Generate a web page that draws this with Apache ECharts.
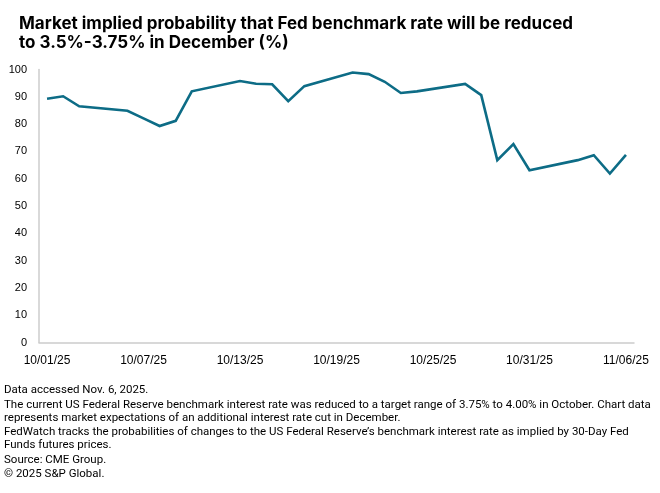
<!DOCTYPE html>
<html>
<head>
<meta charset="utf-8">
<script src="https://cdn.jsdelivr.net/npm/echarts@6/dist/echarts.min.js"></script>
<style>
html,body{margin:0;padding:0;background:#fff;}
#chart{width:660px;height:493px;}
</style>
</head>
<body>
<div id="chart"></div>
<script>
var dates = ['10/01/25','10/02/25','10/03/25','10/04/25','10/05/25','10/06/25','10/07/25','10/08/25','10/09/25','10/10/25',
  '10/11/25','10/12/25','10/13/25','10/14/25','10/15/25','10/16/25','10/17/25','10/18/25','10/19/25','10/20/25',
  '10/21/25','10/22/25','10/23/25','10/24/25','10/25/25','10/26/25','10/27/25','10/28/25','10/29/25','10/30/25',
  '10/31/25','11/01/25','11/02/25','11/03/25','11/04/25','11/05/25','11/06/25'];
var probability = [89.3, 90.2, 86.5, null, null, 84.9, 82.1, 79.3, 81.2, 92.0,
  null, null, 95.8, 94.8, 94.6, 88.4, 93.9, null, null, 98.9,
  98.3, 95.5, 91.4, 92.0, null, null, 94.7, 90.6, 66.8, 72.7,
  63.1, null, null, 66.8, 68.6, 61.9, 68.7];
var titleText = 'Market implied probability that Fed benchmark rate will be reduced\nto 3.5%-3.75% in December (%)';
var notes = [
  'Data accessed Nov. 6, 2025.',
  'The current US Federal Reserve benchmark interest rate was reduced to a target range of 3.75% to 4.00% in October. Chart data\nrepresents market expectations of an additional interest rate cut in December.',
  'FedWatch tracks the probabilities of changes to the US Federal Reserve\u2019s benchmark interest rate as implied by 30-Day Fed\nFunds futures prices.',
  'Source: CME Group.',
  '\u00a9 2025 S&P Global.'
];
var noteTops = [383.5, 398.5, 425.5, 453.5, 467.5];

var titles = [{
  text: titleText,
  left: 14, top: 9,
  textStyle: {fontFamily: 'Inter', fontWeight: 'bold', fontSize: 17, lineHeight: 19.5, color: '#000000'}
}];
notes.forEach(function (t, i) {
  titles.push({
    text: t,
    left: 4, top: noteTops[i], padding: 0,
    textStyle: {fontFamily: 'Roboto', fontWeight: 'normal', fontSize: 11.5, lineHeight: 13, color: '#000000'}
  });
});

var chart = echarts.init(document.getElementById('chart'), null, {renderer: 'canvas'});
chart.setOption({
  animation: false,
  backgroundColor: '#ffffff',
  title: titles,
  grid: {left: 39, right: 26, top: 69.5, bottom: 150.5, containLabel: false},
  xAxis: {
    type: 'category',
    data: dates,
    boundaryGap: true,
    axisLine: {lineStyle: {color: '#cccccc', width: 1.5}},
    axisTick: {show: false},
    axisLabel: {interval: 5, color: '#000000', fontFamily: 'Liberation Sans', fontSize: 12, margin: 12}
  },
  yAxis: {
    type: 'value',
    min: 0, max: 100, interval: 10,
    axisLine: {show: true, lineStyle: {color: '#cccccc', width: 1.5}},
    axisTick: {show: false},
    splitLine: {show: false},
    axisLabel: {color: '#000000', fontFamily: 'Liberation Sans', fontSize: 11, margin: 12}
  },
  series: [{
    type: 'line',
    data: probability,
    connectNulls: true,
    showSymbol: false,
    symbol: 'none',
    lineStyle: {color: '#0d6c86', width: 2.6, join: 'miter'},
    itemStyle: {color: '#0d6c86'}
  }]
});
</script>
</body>
</html>
